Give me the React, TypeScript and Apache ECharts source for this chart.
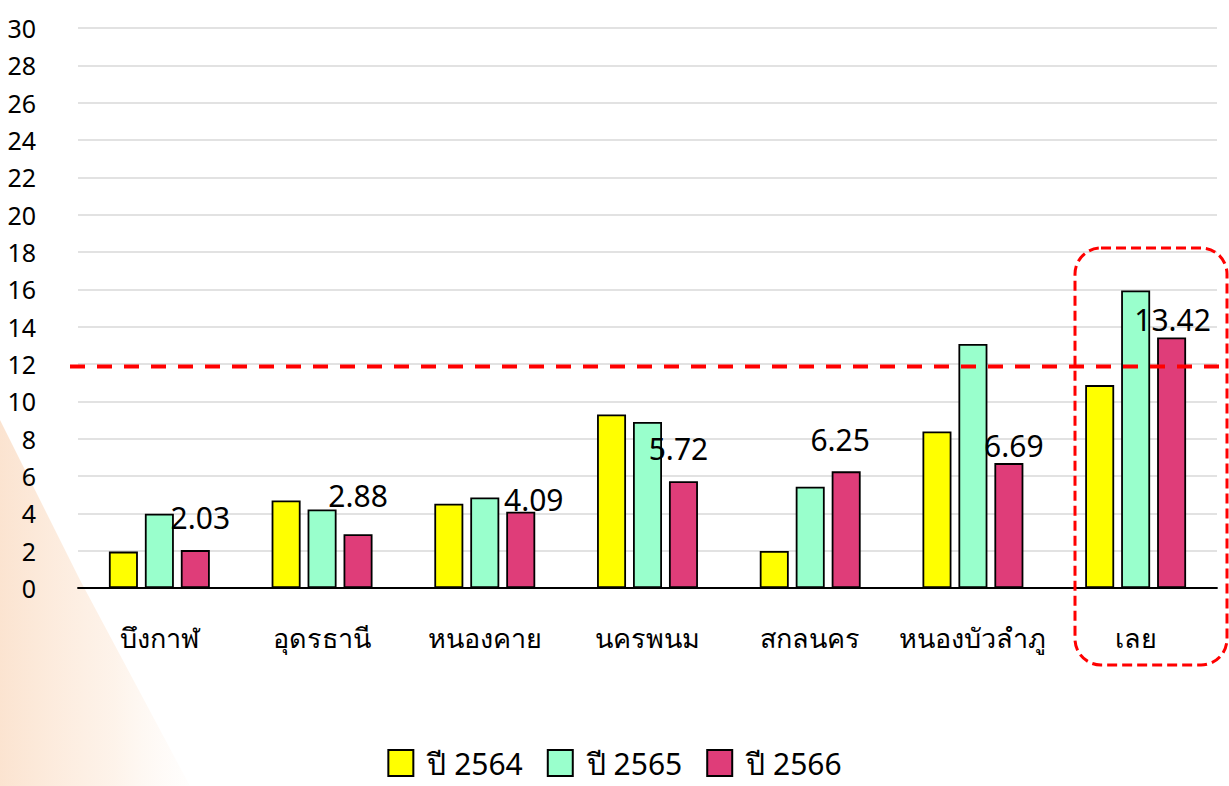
import React, { useEffect, useRef } from "react";
import * as echarts from "echarts";

const categories = ["บึงกาฬ", "อุดรธานี", "หนองคาย", "นครพนม", "สกลนคร", "หนองบัวลำภู", "เลย"];
const seriesNames = ["ปี 2564", "ปี 2565", "ปี 2566"];
const values2564 = [1.95, 4.69, 4.52, 9.3, 1.98, 8.39, 10.87];
const values2565 = [3.98, 4.21, 4.85, 8.89, 5.43, 13.07, 15.94];
const values2566 = [2.03, 2.88, 4.09, 5.72, 6.25, 6.69, 13.42];
const threshold = 11.87;
const yTicks = { min: 0, max: 30, interval: 2 };

// label nudges (layout only)
const labelNudges: [number, number][] = [
  [5, -18], [0, -24], [13, 3], [-5, -18], [-6, -17], [5, -3], [1, -3],
];

const COLORS = ["#FFFF00", "#99FFCC", "#DF3D79"];
const FONT = "'Noto Sans', 'DejaVu Sans', sans-serif";

export default function App() {
  const ref = useRef<HTMLDivElement>(null);
  useEffect(() => {
    document.body.style.margin = "0";
    if (!ref.current) return;
    const chart = echarts.init(ref.current, undefined, { renderer: "svg" });
    const mk = (name: string, data: number[], idx: number, withLabel: boolean) => ({
      name,
      type: "bar",
      barWidth: 29,
      barGap: "24%",
      data: data.map((v, i) =>
        withLabel
          ? {
              value: v,
              label: {
                show: true,
                position: "top",
                distance: 0,
                offset: labelNudges[i],
                formatter: (p: any) => Number(p.value).toFixed(2),
                fontSize: 30,
                color: "#000",
                fontFamily: FONT,
              },
            }
          : v
      ),
      itemStyle: { color: COLORS[idx], borderColor: "#000", borderWidth: 1.8 },
      z: 3,
    });
    chart.setOption({
      animation: false,
      backgroundColor: "transparent",
      textStyle: { fontFamily: FONT },
      grid: { left: 78, right: 12, top: 28, bottom: 198, containLabel: false },
      legend: {
        data: seriesNames,
        top: 745,
        left: "center",
        padding: 0,
        icon: "rect",
        itemWidth: 25,
        itemHeight: 26,
        itemGap: 24,
        textStyle: { fontSize: 30, lineHeight: 36, color: "#000", fontFamily: FONT, padding: [0, 0, 0, 9] },
      },
      xAxis: {
        type: "category",
        data: categories,
        axisLine: { show: true, lineStyle: { color: "#000", width: 1.8 } },
        axisTick: { show: false },
        axisLabel: { interval: 0, fontSize: 27, color: "#000", margin: 36, fontFamily: FONT },
      },
      yAxis: {
        type: "value",
        min: yTicks.min,
        max: yTicks.max,
        interval: yTicks.interval,
        axisLine: { show: false },
        axisTick: { show: false },
        axisLabel: { fontSize: 25, color: "#000", margin: 42, fontFamily: FONT },
        splitLine: { lineStyle: { color: "#D9D9D9", width: 1.5 } },
      },
      series: [
        mk(seriesNames[0], values2564, 0, false),
        mk(seriesNames[1], values2565, 1, false),
        mk(seriesNames[2], values2566, 2, true),
      ],
    });
    const ty = chart.convertToPixel({ yAxisIndex: 0 }, threshold) as number;
    chart.setOption({
      graphic: [
        {
          type: "polygon",
          z: -10,
          silent: true,
          shape: { points: [[0, 420], [80, 580], [190, 786], [0, 786]] },
          style: {
            fill: new echarts.graphic.LinearGradient(0, 0, 1, 0, [
              { offset: 0, color: "rgba(248,205,170,0.55)" },
              { offset: 0.6, color: "rgba(250,215,185,0.3)" },
              { offset: 1, color: "rgba(252,230,210,0.05)" },
            ]),
          },
        },
        {
          type: "line",
          z: 100,
          silent: true,
          shape: { x1: 70, y1: ty, x2: 1229, y2: ty },
          style: { stroke: "#FF0000", lineWidth: 4, lineDash: [15, 12] },
        },
        {
          type: "rect",
          z: 100,
          silent: true,
          shape: { x: 1075, y: 248, width: 152, height: 417, r: 26 },
          style: { fill: "none", stroke: "#FF0000", lineWidth: 3, lineDash: [10, 5] },
        },
      ],
    });
    return () => chart.dispose();
  }, []);
  return <div ref={ref} style={{ width: 1229, height: 786 }} />;
}
